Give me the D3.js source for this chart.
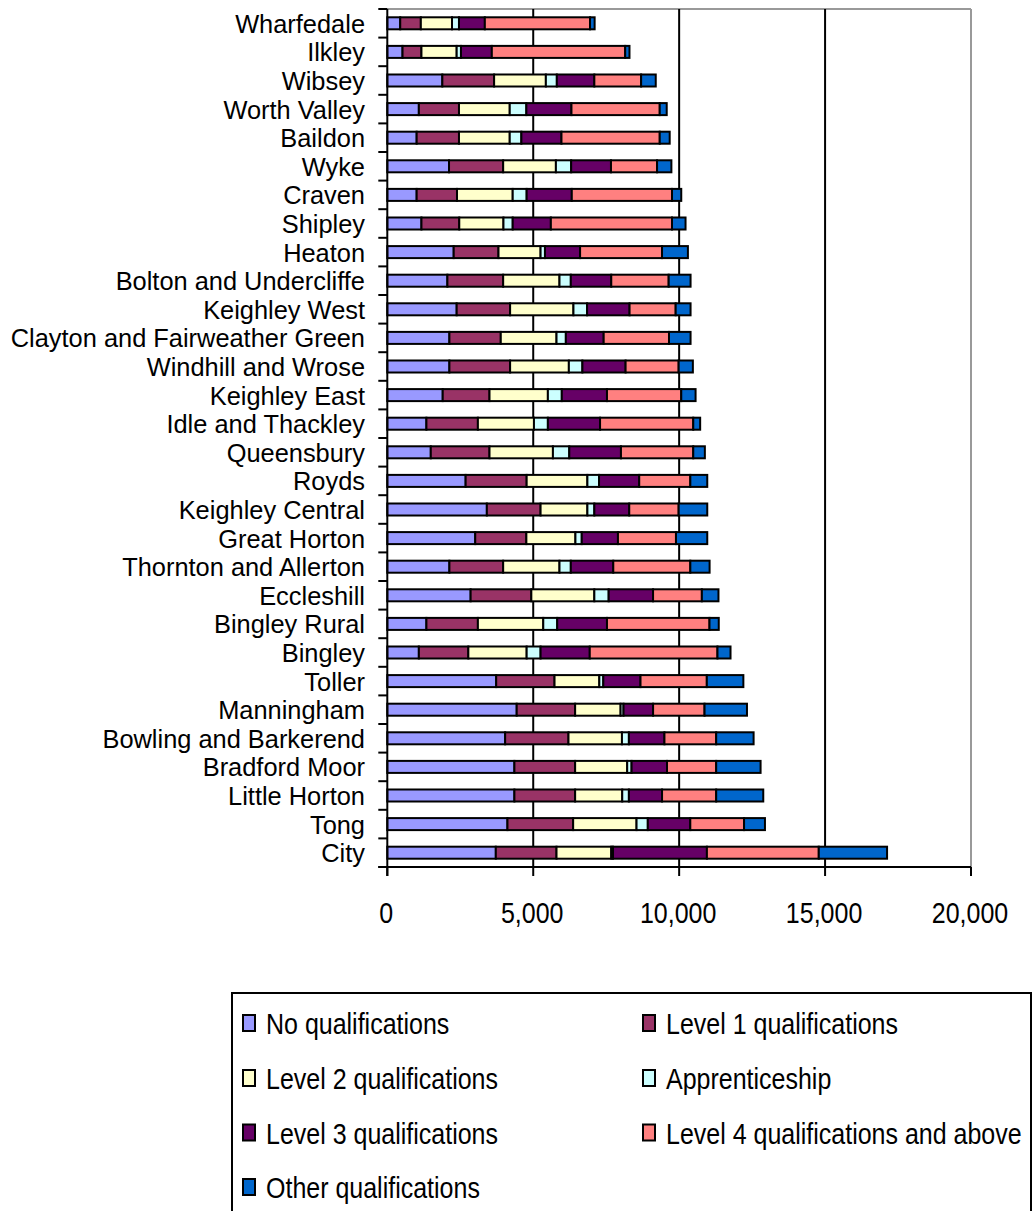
<!DOCTYPE html>
<html>
<head>
<meta charset="utf-8">
<script src="https://cdn.jsdelivr.net/npm/d3@7"></script>
<style>
  html, body { margin: 0; padding: 0; background: #fff; }
  svg { display: block; }
  text { font-family: "Liberation Sans", Arial, sans-serif; fill: #000; }
</style>
</head>
<body>
<svg id="chart" width="1033" height="1211"></svg>
<script>
// Wards, top to bottom as shown
const wards = ["Wharfedale","Ilkley","Wibsey","Worth Valley","Baildon","Wyke","Craven","Shipley","Heaton",
  "Bolton and Undercliffe","Keighley West","Clayton and Fairweather Green","Windhill and Wrose","Keighley East",
  "Idle and Thackley","Queensbury","Royds","Keighley Central","Great Horton","Thornton and Allerton","Eccleshill",
  "Bingley Rural","Bingley","Toller","Manningham","Bowling and Barkerend","Bradford Moor","Little Horton","Tong","City"];

const seriesNames = ["No qualifications","Level 1 qualifications","Level 2 qualifications","Apprenticeship",
  "Level 3 qualifications","Level 4 qualifications and above","Other qualifications"];
const seriesColors = ["#9999FF","#993366","#FFFFCC","#CCFFFF","#660066","#FF8080","#0066CC"];

// values per series, in the same ward order as above
const noQual   = [443,522,1886,1081,1006,2115,1006,1170,2275,2059,2377,2128,2128,1899,1340,1490,2684,3411,3013,2128,2855,1340,1081,3731,4434,4038,4355,4355,4117,3718];
const level1   = [706,648,1774,1375,1450,1855,1382,1296,1535,1911,1831,1760,2080,1603,1764,2012,2091,1841,1752,1842,2080,1764,1696,1999,2002,2170,2081,2081,2251,2080];
const level2   = [1068,1207,1773,1739,1739,1807,1909,1514,1442,1930,2170,1910,2013,2000,1921,2173,2081,1604,1681,1930,2159,2240,1998,1535,1558,1832,1784,1614,2172,1876];
const apprent  = [239,147,376,570,399,523,478,317,150,388,467,320,464,477,477,560,399,238,217,388,491,478,477,136,100,238,150,228,386,60];
const level3   = [886,1057,1285,1545,1374,1364,1546,1307,1204,1386,1456,1296,1480,1548,1788,1771,1377,1196,1240,1455,1521,1705,1685,1275,1013,1218,1214,1136,1456,3217];
const level4   = [3605,4570,1603,3025,3367,1579,3434,4151,2807,1967,1580,2238,1818,2545,3193,2477,1751,1693,1988,2640,1672,3513,4376,2272,1763,1773,1685,1855,1842,3833];
const otherQ   = [157,147,501,239,341,491,317,464,887,750,510,739,487,491,237,398,580,980,1072,660,569,317,447,1252,1454,1282,1521,1613,716,2340];

const xTicks = [0, 5000, 10000, 15000, 20000];
const xTickLabels = ["0","5,000","10,000","15,000","20,000"];

const seriesValues = [noQual, level1, level2, apprent, level3, level4, otherQ];
const rows = wards.map((w, i) => {
  const r = { ward: w };
  seriesNames.forEach((s, j) => r[s] = seriesValues[j][i]);
  return r;
});

const svg = d3.select("#chart");
const plot = { left: 387.3, right: 971, top: 9, bottom: 867 };
const x = d3.scaleLinear().domain([0, 20000]).range([plot.left, plot.right]);
const y = d3.scaleBand().domain(wards).range([plot.top, plot.bottom]).paddingInner(0.58).paddingOuter(0.29);
const band = d3.scaleBand().domain(wards).range([plot.top, plot.bottom]);
const SY = 1.18, FS = 25;

// plot border (gray top & right)
svg.append("line").attr("x1", plot.left).attr("x2", plot.right).attr("y1", plot.top).attr("y2", plot.top)
  .attr("stroke", "#999").attr("stroke-width", 2);
svg.append("line").attr("x1", plot.right).attr("x2", plot.right).attr("y1", plot.top).attr("y2", plot.bottom)
  .attr("stroke", "#999").attr("stroke-width", 2);

// gridlines
svg.append("g").selectAll("line").data(xTicks.slice(1, -1)).join("line")
  .attr("x1", d => x(d)).attr("x2", d => x(d)).attr("y1", plot.top).attr("y2", plot.bottom)
  .attr("stroke", "#000").attr("stroke-width", 2);

// stacked bars
const stack = d3.stack().keys(seriesNames)(rows);
svg.append("g").selectAll("g").data(stack).join("g")
  .attr("fill", (d, i) => seriesColors[i])
  .selectAll("rect").data(d => d).join("rect")
  .attr("x", d => x(d[0]))
  .attr("width", d => Math.max(0, x(d[1]) - x(d[0])))
  .attr("y", d => y(d.data.ward))
  .attr("height", y.bandwidth())
  .attr("stroke", "#000").attr("stroke-width", 2);

// y axis
const yAxisG = svg.append("g");
yAxisG.append("line").attr("x1", plot.left).attr("x2", plot.left).attr("y1", plot.top).attr("y2", plot.bottom + 9)
  .attr("stroke", "#000").attr("stroke-width", 2);
const yTickPos = wards.map(w => band(w)).concat([plot.bottom]);
yAxisG.selectAll("line.t").data(yTickPos).join("line").attr("class", "t")
  .attr("x1", plot.left - 9).attr("x2", plot.left).attr("y1", d => d).attr("y2", d => d)
  .attr("stroke", "#000").attr("stroke-width", 2);
yAxisG.selectAll("text").data(wards).join("text")
  .attr("text-anchor", "end")
  .attr("font-size", 25.4)
  .attr("x", 365)
  .attr("y", d => band(d) + band.bandwidth() / 2 + 9.5)
  .text(d => d);

// x axis
const xAxisG = svg.append("g");
xAxisG.append("line").attr("x1", plot.left - 9).attr("x2", plot.right).attr("y1", plot.bottom).attr("y2", plot.bottom)
  .attr("stroke", "#000").attr("stroke-width", 2);
xAxisG.selectAll("line.t").data(xTicks).join("line").attr("class", "t")
  .attr("x1", d => x(d)).attr("x2", d => x(d)).attr("y1", plot.bottom).attr("y2", plot.bottom + 9)
  .attr("stroke", "#000").attr("stroke-width", 2);
xAxisG.selectAll("text").data(xTicks).join("text")
  .attr("text-anchor", "middle")
  .attr("font-size", FS)
  .attr("transform", (d) => `translate(${x(d) - 1},923) scale(1,${SY})`)
  .text((d, i) => xTickLabels[i]);

// legend
const lg = svg.append("g");
lg.append("rect").attr("x", 232).attr("y", 993).attr("width", 799).attr("height", 240)
  .attr("fill", "#fff").attr("stroke", "#000").attr("stroke-width", 2);
const colX = [242, 642];
const rowY = [1023, 1078, 1132.5, 1187];
const items = lg.selectAll("g.item").data(seriesNames).join("g").attr("class", "item")
  .attr("transform", (d, i) => `translate(${colX[i % 2]},${rowY[Math.floor(i / 2)]})`);
items.append("rect").attr("x", 1).attr("y", -8).attr("width", 12).attr("height", 16)
  .attr("fill", (d, i) => seriesColors[i]).attr("stroke", "#000").attr("stroke-width", 2);
items.append("text").attr("font-size", FS)
  .attr("transform", `translate(24,11) scale(1,${SY})`)
  .text(d => d);
</script>
</body>
</html>
